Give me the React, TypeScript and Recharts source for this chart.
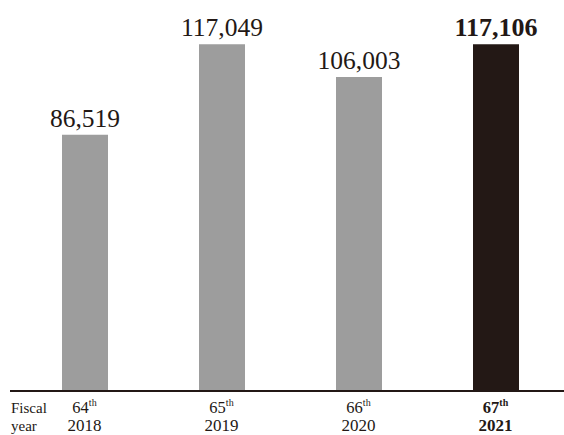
import { BarChart, Bar, XAxis, YAxis, Cell, LabelList } from 'recharts';

const ordinals = ['64', '65', '66', '67'];
const years = ['2018', '2019', '2020', '2021'];
const values = [86519, 117049, 106003, 117106];
const highlight = 3;

const data = years.map((y, i) => ({ year: y, ord: ordinals[i], value: values[i] }));

const ink = '#231815';
const grey = '#9d9d9d';
const serif = '"Liberation Serif", "Times New Roman", serif';

const YearTick = (props: any) => {
  const { x, y, payload, index } = props;
  const bold = index === highlight;
  const weight = bold ? 'bold' : 'normal';
  return (
    <g>
      {index === 0 && (
        <text x={11} y={y} fill={ink} fontFamily={serif} fontSize={15}>
          <tspan x={11} dy={21.5}>Fiscal</tspan>
          <tspan x={11} dy={18}>year</tspan>
        </text>
      )}
      <text x={x} y={y + 21.5} textAnchor="middle" fill={ink} fontFamily={serif} fontSize={16.5} fontWeight={weight}>
        {data[index].ord}
        <tspan fontSize={10} dy={-7}>th</tspan>
      </text>
      <text x={x} y={y + 39.5} textAnchor="middle" fill={ink} fontFamily={serif} fontSize={17} fontWeight={weight}>
        {payload.value}
      </text>
    </g>
  );
};

const ValueLabel = (props: any) => {
  const { x, y, width, index, value } = props;
  const bold = index === highlight;
  return (
    <text
      x={x + width / 2}
      y={y - 8}
      textAnchor="middle"
      fill={ink}
      fontFamily={serif}
      fontSize={bold ? 26 : 25.5}
      fontWeight={bold ? 'bold' : 'normal'}
    >
      {value.toLocaleString('en-US')}
    </text>
  );
};

export default function App() {
  return (
    <div style={{ position: 'absolute', left: 0, top: 0, background: '#fff' }}>
      <BarChart width={564} height={435} data={data} margin={{ top: 6, right: 0, bottom: 0, left: 10 }}>
        <XAxis
          dataKey="year"
          height={44}
          padding={{ left: 6, right: 0 }}
          tickLine={false}
          tickSize={0}
          tickMargin={0}
          axisLine={{ stroke: ink, strokeWidth: 2 }}
          tick={<YearTick />}
          interval={0}
        />
        <YAxis hide domain={[0, 130000]} />
        <Bar dataKey="value" barSize={46} isAnimationActive={false}>
          {data.map((d, i) => (
            <Cell key={d.year} fill={i === highlight ? ink : grey} />
          ))}
          <LabelList dataKey="value" content={<ValueLabel />} />
        </Bar>
      </BarChart>
    </div>
  );
}
